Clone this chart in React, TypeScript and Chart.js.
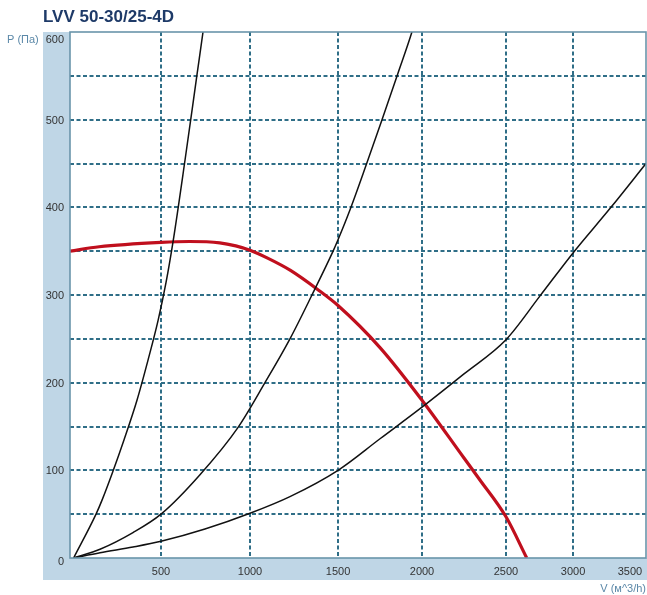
import { useEffect, useRef } from "react";
import { Chart, registerables, LinearScale } from "chart.js";

Chart.register(...registerables);

// ---- chart content ----
const TITLE = "LVV 50-30/25-4D";
const Y_AXIS_TITLE = "P (Па)";
const X_AXIS_TITLE = "V (м^3/h)";

const X_TICKS = [500, 1000, 1500, 2000, 2500, 3000, 3500];
const X_GRID = [500, 1000, 1500, 2000, 2500, 3000];
const Y_TICKS = [0, 100, 200, 300, 400, 500, 600];
const Y_GRID = [50, 100, 150, 200, 250, 300, 350, 400, 450, 500, 550];

// Fan characteristic (red)
const FAN_V = [0, 160, 500, 660, 830, 920, 1000, 1100, 1230, 1386, 1500, 1750, 2000, 2250, 2345, 2500, 2655];
const FAN_P = [350, 355, 360, 361, 359.5, 356, 351, 342, 328, 306, 288, 240, 180, 114, 89, 47, 0];

// System curves (black)
const SYS_A_V = [20, 143, 176, 236, 297, 368, 429, 484, 528, 567, 635, 702, 736, 753];
const SYS_A_P = [0, 50, 66, 99, 135, 180, 226, 271, 314, 360, 454, 551, 600, 625];

const SYS_B_V = [20, 165, 346, 500, 719, 933, 1085, 1227, 1352, 1472, 1500, 1571, 1667, 1762, 1857, 1940, 1964];
const SYS_B_P = [0, 10, 29, 50, 95, 149, 200, 250, 300, 350, 363, 397, 448, 500, 553, 600, 616];

const SYS_C_V = [20, 165, 346, 500, 747, 1000, 1227, 1500, 1750, 2000, 2250, 2500, 2754, 3000, 3333, 3640];
const SYS_C_P = [0, 6, 12.5, 19, 33, 51, 70, 100, 136, 172, 210, 249, 299, 348, 400, 450];

// Flow axis is drawn with uneven spacing: [value, share of axis length]
const X_BREAKS: number[][] = [
  [0, 0],
  [500, 0.158],
  [1000, 0.3125],
  [1500, 0.4653],
  [2000, 0.6111],
  [2500, 0.7569],
  [3000, 0.8733],
  [3500, 0.9722],
  [3640, 1],
];

const FONT = '"Liberation Sans", Arial, sans-serif';
const BAND = "#bfd6e6";
const FRAME = "#6a95ab";
const GRID = "#2f6e87";
const TICK_TEXT = "#333333";
const AXIS_TITLE = "#5b88a8";

// Linear scale whose value→pixel mapping is piecewise linear between breaks
class BrokenLinearScale extends LinearScale {
  static id = "brokenLinear";
  static defaults = LinearScale.defaults;

  getPixelForValue(value: any) {
    if (value === null || value === undefined || isNaN(value)) return NaN;
    const b = ((this.options as any).breaks || X_BREAKS) as number[][];
    let dec: number;
    if (value <= b[0][0]) {
      const s = (b[1][1] - b[0][1]) / (b[1][0] - b[0][0]);
      dec = b[0][1] + (value - b[0][0]) * s;
    } else if (value >= b[b.length - 1][0]) {
      const n = b.length - 1;
      const s = (b[n][1] - b[n - 1][1]) / (b[n][0] - b[n - 1][0]);
      dec = b[n][1] + (value - b[n][0]) * s;
    } else {
      let i = 0;
      while (i < b.length - 2 && value > b[i + 1][0]) i++;
      const t = (value - b[i][0]) / (b[i + 1][0] - b[i][0]);
      dec = b[i][1] + t * (b[i + 1][1] - b[i][1]);
    }
    return this.getPixelForDecimal(dec);
  }

  getValueForPixel(pixel: number) {
    const b = ((this.options as any).breaks || X_BREAKS) as number[][];
    const dec = this.getDecimalForPixel(pixel);
    let i = 0;
    while (i < b.length - 2 && dec > b[i + 1][1]) i++;
    const t = (dec - b[i][1]) / (b[i + 1][1] - b[i][1]);
    return b[i][0] + t * (b[i + 1][0] - b[i][0]);
  }
}
Chart.register(BrokenLinearScale as any);

const toPoints = (vs: number[], ps: number[]) => vs.map((v, i) => ({ x: v, y: ps[i] }));

const decorPlugin = {
  id: "decor",
  beforeDraw(chart: any) {
    const { ctx, chartArea } = chart;
    const { left, right, top, bottom } = chartArea;
    ctx.save();
    ctx.fillStyle = BAND;
    ctx.fillRect(43, top, left - 43, bottom + 22 - top);
    ctx.fillRect(43, bottom, chart.width - 43, 22);
    ctx.fillStyle = "#ffffff";
    ctx.fillRect(left, top, right - left, bottom - top);
    ctx.restore();
  },
  afterDraw(chart: any) {
    const { ctx, chartArea } = chart;
    const { left, right, top, bottom } = chartArea;
    const xs = chart.scales.x;
    const ys = chart.scales.y;
    ctx.save();

    // plot frame
    ctx.strokeStyle = FRAME;
    ctx.lineWidth = 1.6;
    ctx.strokeRect(left, top, right - left, bottom - top);

    // title
    ctx.fillStyle = "#1e3a68";
    ctx.font = `bold 17px ${FONT}`;
    ctx.textAlign = "left";
    ctx.textBaseline = "alphabetic";
    ctx.fillText(TITLE, 43, 22);

    // tick labels
    ctx.font = `11px ${FONT}`;
    ctx.fillStyle = TICK_TEXT;
    ctx.textBaseline = "middle";
    ctx.textAlign = "right";
    Y_TICKS.forEach((v) => {
      const py = ys.getPixelForValue(v);
      const y = v === ys.max ? top + 8 : v === ys.min ? py + 4 : py + 1;
      ctx.fillText(String(v), 64, y);
    });
    ctx.textAlign = "center";
    X_TICKS.forEach((v) => {
      ctx.fillText(String(v), xs.getPixelForValue(v), bottom + 14);
    });

    // axis titles
    ctx.fillStyle = AXIS_TITLE;
    ctx.textAlign = "left";
    ctx.fillText(Y_AXIS_TITLE, 7, top + 8);
    ctx.textAlign = "right";
    ctx.fillText(X_AXIS_TITLE, chart.width - 1, bottom + 31);

    ctx.restore();
  },
};

export default function App() {
  const ref = useRef<HTMLCanvasElement | null>(null);

  useEffect(() => {
    if (!ref.current) return;
    const gridColor = (list: number[]) => (c: any) =>
      c.tick && list.includes(c.tick.value) ? GRID : "rgba(0,0,0,0)";

    const systemLine = (label: string, vs: number[], ps: number[]) => ({
      label,
      data: toPoints(vs, ps),
      borderColor: "#111111",
      borderWidth: 1.5,
      pointRadius: 0,
      cubicInterpolationMode: "monotone" as const,
    });

    const chart = new Chart(ref.current, {
      type: "line",
      data: {
        datasets: [
          systemLine("A", SYS_A_V, SYS_A_P),
          systemLine("B", SYS_B_V, SYS_B_P),
          systemLine("C", SYS_C_V, SYS_C_P),
          {
            label: "Fan",
            data: toPoints(FAN_V, FAN_P),
            borderColor: "#c00f1d",
            borderWidth: 3.2,
            pointRadius: 0,
            cubicInterpolationMode: "monotone",
          },
        ],
      },
      options: {
        animation: false,
        responsive: false,
        events: [],
        layout: { padding: { left: 70, right: 1, top: 32, bottom: 37 } },
        plugins: {
          legend: { display: false },
          tooltip: { enabled: false },
          title: { display: false },
        },
        scales: {
          x: {
            type: "brokenLinear" as any,
            breaks: X_BREAKS,
            min: 0,
            max: 3640,
            afterBuildTicks: (s: any) => {
              s.ticks = X_GRID.map((v) => ({ value: v }));
            },
            afterFit: (s: any) => {
              s.height = 0;
            },
            ticks: { display: false },
            grid: { drawTicks: false, color: gridColor(X_GRID), lineWidth: 2 },
            border: { display: false, dash: [4, 2.5] },
          } as any,
          y: {
            type: "linear",
            min: 0,
            max: 600,
            afterBuildTicks: (s: any) => {
              s.ticks = Y_GRID.map((v) => ({ value: v }));
            },
            afterFit: (s: any) => {
              s.width = 0;
            },
            ticks: { display: false },
            grid: { drawTicks: false, color: gridColor(Y_GRID), lineWidth: 2 },
            border: { display: false, dash: [4, 2.5] },
          },
        },
      },
      plugins: [decorPlugin],
    });
    return () => chart.destroy();
  }, []);

  return (
    <div style={{ position: "fixed", left: 0, top: 0, width: 647, height: 595, background: "#ffffff" }}>
      <canvas ref={ref} width={647} height={595} style={{ display: "block", width: 647, height: 595 }} />
    </div>
  );
}
